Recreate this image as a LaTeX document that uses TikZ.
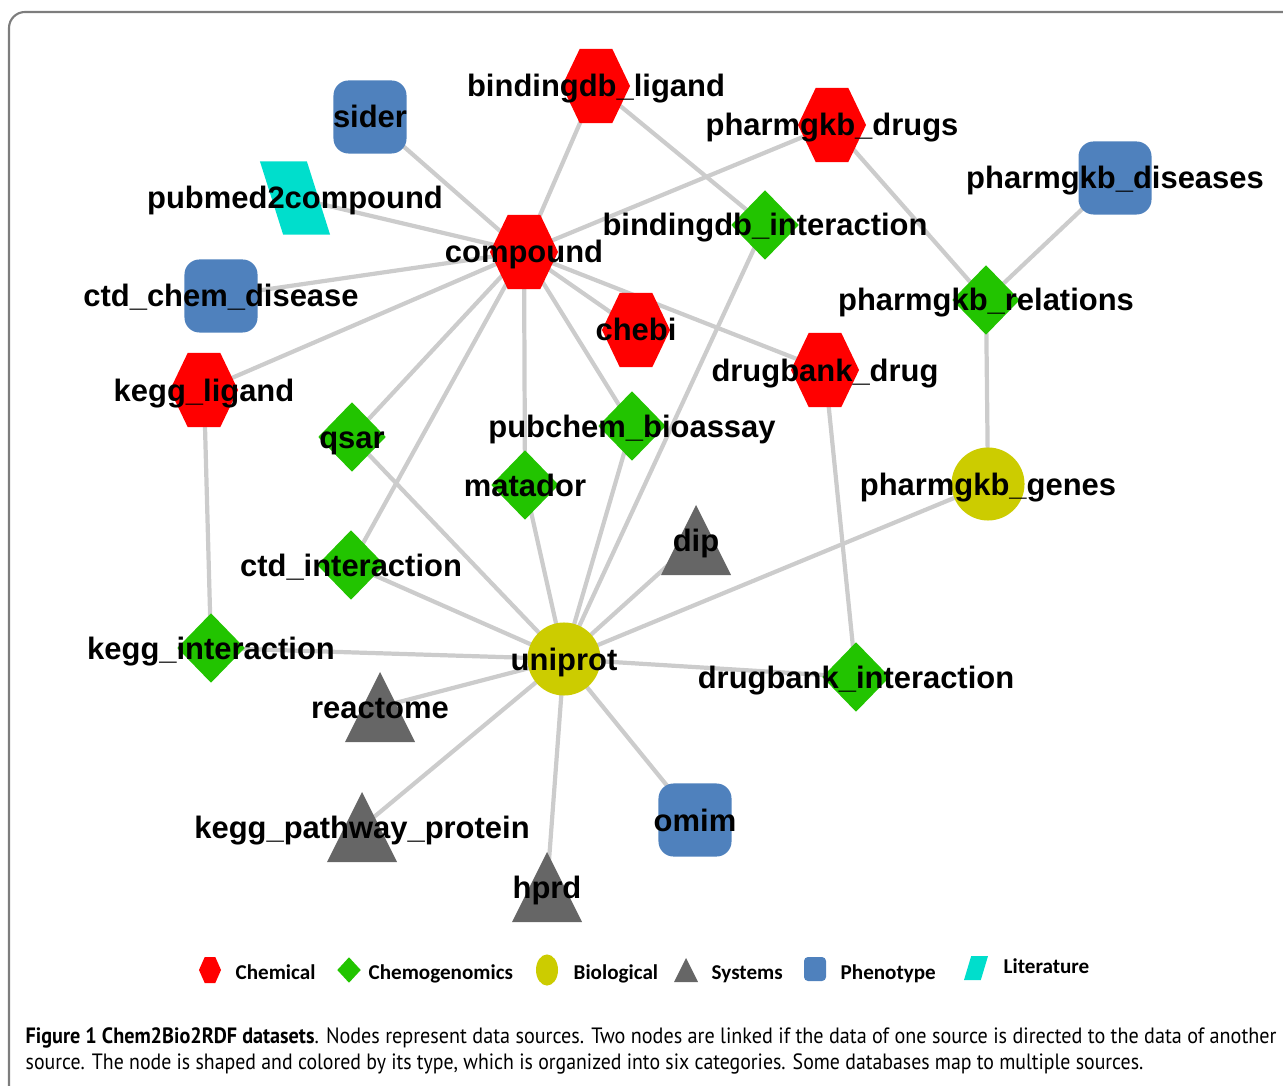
\documentclass[tikz,border=0pt]{standalone}
\usepackage{fontspec}
\setmainfont{Liberation Sans}
\newfontfamily\legendfont{Carlito}
\newfontfamily\captionfont{PT Sans}
\definecolor{chemical}{RGB}{255, 0, 0}
\definecolor{chemogenomics}{RGB}{34, 196, 0}
\definecolor{biological}{RGB}{204, 204, 0}
\definecolor{systems}{RGB}{102, 102, 102}
\definecolor{phenotype}{RGB}{79, 129, 189}
\definecolor{literature}{RGB}{0, 222, 204}
\definecolor{linkgray}{RGB}{204, 204, 204}
\definecolor{framegray}{RGB}{125, 125, 125}
\usepackage{tikz}
\usetikzlibrary{shapes.geometric, backgrounds, calc}

\newcommand{\dsname}[1]{\makebox[0pt]{#1}}

\tikzset{
  dataset/.style={inner sep=0pt, text height=0.22cm, text depth=0pt,
    font=\fontsize{8.8}{10}\selectfont\bfseries},
  chem/.style={dataset, minimum width=0.68cm, minimum height=0.74cm,
    path picture={\fill[chemical] (path picture bounding box.west)
      -- ($(path picture bounding box.north west)!0.26!(path picture bounding box.north east)$)
      -- ($(path picture bounding box.north west)!0.74!(path picture bounding box.north east)$)
      -- (path picture bounding box.east)
      -- ($(path picture bounding box.south west)!0.74!(path picture bounding box.south east)$)
      -- ($(path picture bounding box.south west)!0.26!(path picture bounding box.south east)$)
      -- cycle;}},
  gen/.style={dataset, diamond, fill=chemogenomics, minimum width=0.68cm, minimum height=0.70cm},
  bio/.style={dataset, circle, fill=biological, minimum size=0.73cm},
  sys/.style={dataset, minimum width=0.70cm, minimum height=0.70cm,
    path picture={\fill[systems] (path picture bounding box.south west)
      -- (path picture bounding box.north) -- (path picture bounding box.south east) -- cycle;}},
  pheno/.style={dataset, rectangle, rounded corners=0.15cm, fill=phenotype, minimum size=0.73cm},
  lit/.style={dataset, minimum width=0.70cm, minimum height=0.73cm,
    path picture={\fill[literature] (path picture bounding box.north west)
      -- ($(path picture bounding box.north west)!0.67!(path picture bounding box.north east)$)
      -- (path picture bounding box.south east)
      -- ($(path picture bounding box.south west)!0.33!(path picture bounding box.south east)$)
      -- cycle;}},
  litleg/.style={dataset, minimum width=0.24cm, minimum height=0.24cm,
    path picture={\fill[literature] ($(path picture bounding box.north west)!0.3!(path picture bounding box.north east)$)
      -- (path picture bounding box.north east)
      -- ($(path picture bounding box.south west)!0.7!(path picture bounding box.south east)$)
      -- (path picture bounding box.south west)
      -- cycle;}},
  link/.style={draw=linkgray, line width=1.2pt},
  legtext/.style={anchor=base west, inner sep=0pt, font=\legendfont\fontsize{6}{7}\selectfont\bfseries},
  captext/.style={anchor=base west, inner sep=0pt, font=\captionfont\fontsize{6.3}{7.5}\selectfont}
}

\begin{document}
\begin{tikzpicture}[x=0.01cm, y=-0.01cm]
  \useasboundingbox (0,0) rectangle (1283,1086);

  % Frame
  \draw[framegray, line width=0.6pt, rounded corners=0.16cm] (9,1100) -- (9,12) -- (1300,12);

  % Chemical
  \node[chem] (compound) at (524,252) {\dsname{compound}};
  \node[chem] (bdb-ligand) at (596,86) {\dsname{bindingdb\_ligand}};
  \node[chem] (pgkb-drugs) at (832,125) {\dsname{pharmgkb\_drugs}};
  \node[chem] (chebi) at (636,330) {\dsname{chebi}};
  \node[chem] (db-drug) at (825,370) {\dsname{drugbank\_drug}};
  \node[chem] (kegg-ligand) at (204,390) {\dsname{kegg\_ligand}};

  % Chemogenomics
  \node[gen] (bdb-inter) at (765,225) {\dsname{bindingdb\_interaction}};
  \node[gen] (pgkb-rel) at (986,300) {\dsname{pharmgkb\_relations}};
  \node[gen] (qsar) at (352,437) {\dsname{qsar}};
  \node[gen] (pubchem) at (632,426) {\dsname{pubchem\_bioassay}};
  \node[gen] (matador) at (525,485) {\dsname{matador}};
  \node[gen] (ctd-inter) at (351,565) {\dsname{ctd\_interaction}};
  \node[gen] (kegg-inter) at (211,648) {\dsname{kegg\_interaction}};
  \node[gen] (db-inter) at (856,677) {\dsname{drugbank\_interaction}};

  % Biological
  \node[bio] (pgkb-genes) at (988,484) {\dsname{pharmgkb\_genes}};
  \node[bio] (uniprot) at (564,659) {\dsname{uniprot}};

  % Systems
  \node[sys] (dip) at (696,540) {\dsname{dip}};
  \node[sys] (reactome) at (380,707) {\dsname{reactome}};
  \node[sys] (kegg-path) at (362,827) {\dsname{kegg\_pathway\_protein}};
  \node[sys] (hprd) at (547,887) {\dsname{hprd}};

  % Phenotype
  \node[pheno] (sider) at (370,117) {\dsname{sider}};
  \node[pheno] (pgkb-dis) at (1115,178) {\dsname{pharmgkb\_diseases}};
  \node[pheno] (ctd-chem) at (221,296) {\dsname{ctd\_chem\_disease}};
  \node[pheno] (omim) at (695,820) {\dsname{omim}};

  % Literature
  \node[lit] (pubmed) at (295,198) {\dsname{pubmed2compound}};

  % Links
  \begin{scope}[on background layer]
    \draw[link] (compound.center) -- (sider.center);
    \draw[link] (compound.center) -- (pubmed.center);
    \draw[link] (compound.center) -- (ctd-chem.center);
    \draw[link] (compound.center) -- (kegg-ligand.center);
    \draw[link] (compound.center) -- (bdb-ligand.center);
    \draw[link] (compound.center) -- (pgkb-drugs.center);
    \draw[link] (compound.center) -- (chebi.center);
    \draw[link] (compound.center) -- (db-drug.center);
    \draw[link] (compound.center) -- (qsar.center);
    \draw[link] (compound.center) -- (ctd-inter.center);
    \draw[link] (compound.center) -- (matador.center);
    \draw[link] (compound.center) -- (pubchem.center);
    \draw[link] (bdb-ligand.center) -- (bdb-inter.center);
    \draw[link] (pgkb-drugs.center) -- (pgkb-rel.center);
    \draw[link] (pgkb-dis.center) -- (pgkb-rel.center);
    \draw[link] (pgkb-rel.center) -- (pgkb-genes.center);
    \draw[link] (db-drug.center) -- (db-inter.center);
    \draw[link] (kegg-ligand.center) -- (kegg-inter.center);
    \draw[link] (uniprot.center) -- (pgkb-genes.center);
    \draw[link] (uniprot.center) -- (bdb-inter.center);
    \draw[link] (uniprot.center) -- (db-inter.center);
    \draw[link] (uniprot.center) -- (kegg-inter.center);
    \draw[link] (uniprot.center) -- (qsar.center);
    \draw[link] (uniprot.center) -- (ctd-inter.center);
    \draw[link] (uniprot.center) -- (matador.center);
    \draw[link] (uniprot.center) -- (pubchem.center);
    \draw[link] (uniprot.center) -- (dip.center);
    \draw[link] (uniprot.center) -- (reactome.center);
    \draw[link] (uniprot.center) -- (kegg-path.center);
    \draw[link] (uniprot.center) -- (hprd.center);
    \draw[link] (uniprot.center) -- (omim.center);
  \end{scope}

  % Legend
  \node[chem, minimum width=0.22cm, minimum height=0.26cm] (leg-chem) at (210,970) {};
  \node[legtext] (leg-chem-txt) at (235,979) {Chemical};
  \node[gen, minimum width=0.24cm, minimum height=0.26cm] (leg-gen) at (349,970) {};
  \node[legtext] (leg-gen-txt) at (368,979) {Chemogenomics};
  \node[bio, ellipse, minimum width=0.22cm, minimum height=0.26cm] (leg-bio) at (547,970) {};
  \node[legtext] (leg-bio-txt) at (573,979) {Biological};
  \node[sys, minimum width=0.24cm, minimum height=0.24cm] (leg-sys) at (686,970) {};
  \node[legtext] (leg-sys-txt) at (711,979) {Systems};
  \node[pheno, rounded corners=0.04cm, minimum width=0.22cm, minimum height=0.24cm] (leg-pheno) at (815,969) {};
  \node[legtext] (leg-pheno-txt) at (840,979) {Phenotype};
  \node[litleg] (leg-lit) at (976,968) {};
  \node[legtext] (leg-lit-txt) at (1003,973) {Literature};

  % Caption
  \node[captext] (caption-a) at (25,1043)
    {\resizebox{12.50cm}{\height}{\textbf{Figure 1 Chem2Bio2RDF datasets}. Nodes represent data sources. Two nodes are linked if the data of one source is directed to the data of another}};
  \node[captext] (caption-b) at (25,1069)
    {\resizebox{11.17cm}{\height}{source. The node is shaped and colored by its type, which is organized into six categories. Some databases map to multiple sources.}};
\end{tikzpicture}
\end{document}
